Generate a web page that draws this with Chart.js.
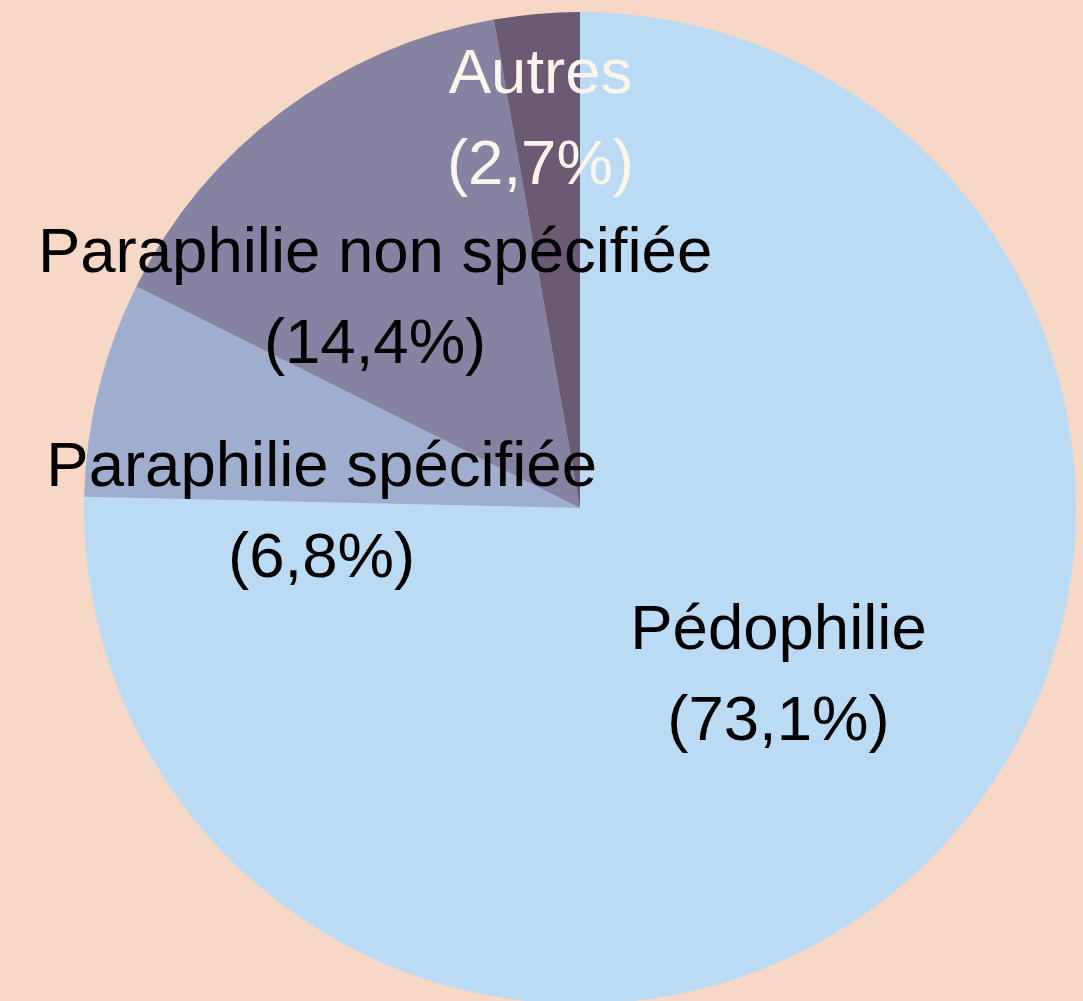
<!DOCTYPE html>
<html lang="fr">
<head>
<meta charset="utf-8">
<title>Paraphilies</title>
<script src="https://cdn.jsdelivr.net/npm/chart.js@4.4.1/dist/chart.umd.min.js"></script>
<style>
    html, body { margin: 0; padding: 0; background: #F7D8C6; overflow: hidden; }
    #wrap { position: relative; width: 1083px; height: 1010px; }
</style>
</head>
<body>
<div id="wrap"><canvas id="pieChart"></canvas></div>
<script>
// Data
var categories = ['Pédophilie', 'Paraphilie spécifiée', 'Paraphilie non spécifiée', 'Autres'];
var shares = [73.1, 6.8, 14.4, 2.7];

// Styles
var sliceColors = ['#BBDAF3', '#9FAECE', '#8583A1', '#6B5A73'];
var labelColors = ['#000000', '#000000', '#000000', '#FBF5EC'];
// label anchor: [angle clockwise from top (deg), fraction of radius]
var labelPlace = [[133.2, 0.549], [264.9, 0.523], [312.9, 0.564], [353.9, 0.750]];

var pieLabels = {
    id: 'pieLabels',
    afterDatasetsDraw: function(chart) {
        var ctx = chart.ctx;
        var meta = chart.getDatasetMeta(0);
        ctx.save();
        ctx.font = '63.5px "Liberation Sans", Arial, sans-serif';
        ctx.textAlign = 'center';
        ctx.textBaseline = 'alphabetic';
        meta.data.forEach(function(arc, i) {
            var a = labelPlace[i][0] * Math.PI / 180;
            var r = arc.outerRadius * labelPlace[i][1];
            var x = arc.x + r * Math.sin(a);
            var y = arc.y - r * Math.cos(a);
            ctx.fillStyle = labelColors[i];
            ctx.fillText(categories[i], x, y - 45.5);
            ctx.fillText('(' + shares[i].toFixed(1).replace('.', ',') + '%)', x, y + 45.5);
        });
        ctx.restore();
    }
};

new Chart(document.getElementById('pieChart').getContext('2d'), {
    type: 'pie',
    data: {
        labels: categories,
        datasets: [{
            data: shares,
            backgroundColor: sliceColors,
            borderWidth: 0
        }]
    },
    options: {
        responsive: true,
        maintainAspectRatio: false,
        animation: false,
        layout: { padding: { left: 84, right: 7, top: 12, bottom: 6 } },
        plugins: {
            legend: { display: false },
            tooltip: { enabled: false }
        }
    },
    plugins: [pieLabels]
});
</script>
</body>
</html>
